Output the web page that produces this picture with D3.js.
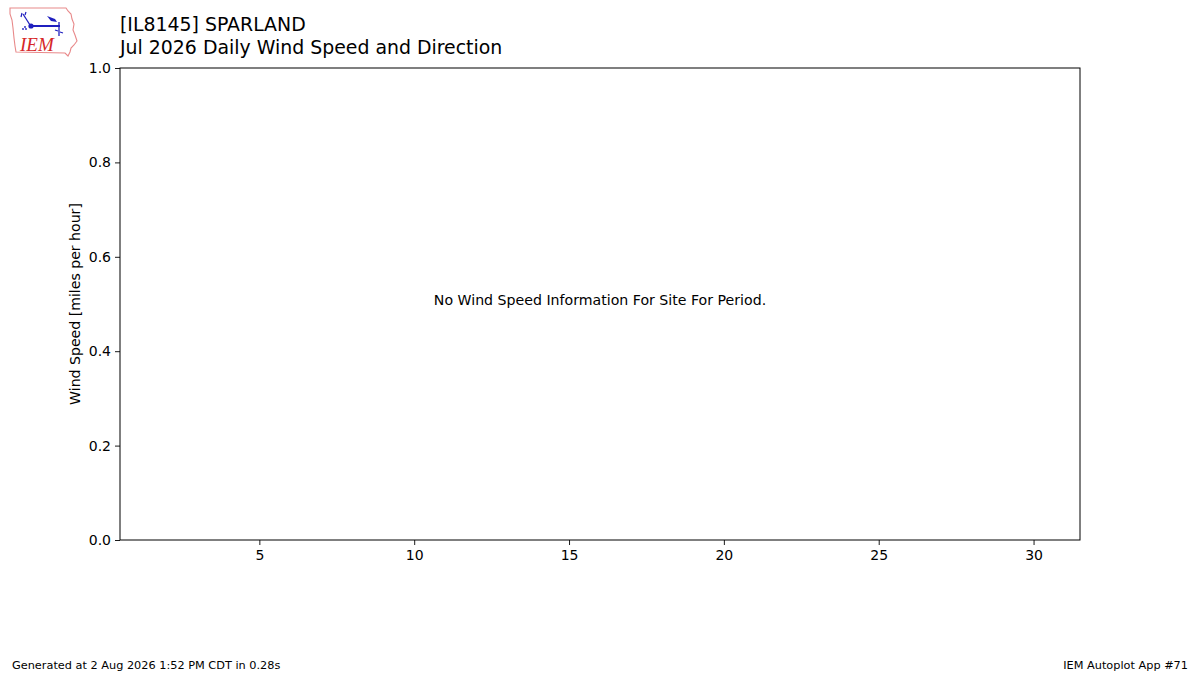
<!DOCTYPE html>
<html>
<head>
<meta charset="utf-8">
<script src="https://cdn.jsdelivr.net/npm/d3@7"></script>
<style>
  body { margin: 0; background: #fff; }
  svg { display: block; font-family: "DejaVu Sans", sans-serif; }
</style>
</head>
<body>
<div id="chart"></div>
<script>
// Data (the site reported nothing for the month)

    var stationId   = "IL8145";
    var stationName = "SPARLAND";
    var monthLabel  = "Jul 2026";

    var windDays  = [];   // day of month
    var windSpeed = [];   // mph
    var windDir   = [];   // degrees

    var xTickValues = [5, 10, 15, 20, 25, 30];
    var yTickValues = [0, 0.2, 0.4, 0.6, 0.8, 1.0];

    var xDomain = [0.5, 31.5];
    var yDomain = [0, 1];

    var noDataMsg  = "No Wind Speed Information For Site For Period.";
    var footerLeft = "Generated at 2 Aug 2026 1:52 PM CDT in 0.28s";
    var footerRight = "IEM Autoplot App #71";


// dimensions

    var svgWidth  = 1200;
    var svgHeight = 675;

    var margin = { top: 68, right: 120, bottom: 135, left: 120 };
    var width  = svgWidth - margin.left - margin.right,
        height = svgHeight - margin.top - margin.bottom;


// Start of SVG

    var svg = d3.select("#chart")
        .append("svg")
            .attr("width", svgWidth)
            .attr("height", svgHeight);

    // logo: Iowa outline with the wind vane mark
    var logo = svg.append("g").attr("class", "logo");
    logo.append("path")
        .attr("d", "M10,8 L66,8 L68,11 L71,14 L72,19 L74,24 L73,30 L75,35 L77,41 L74,45 L71,48 L70,52 L68,56 L65,53 L16,52 L15,46 L14,38 L13,28 L12,20 L10,14 Z")
        .attr("fill", "#fff")
        .attr("stroke", "#e8898a")
        .attr("stroke-width", 1.1);
    logo.append("line")
        .attr("x1", 31).attr("y1", 26).attr("x2", 60).attr("y2", 26)
        .attr("stroke", "#1f1fbf").attr("stroke-width", 2);
    logo.append("line")
        .attr("x1", 23).attr("y1", 14).attr("x2", 30).attr("y2", 25)
        .attr("stroke", "#1f1fbf").attr("stroke-width", 1.3);
    logo.append("path")
        .attr("d", "M22,13 L21,17 M25,15 L26,12")
        .attr("stroke", "#1f1fbf").attr("stroke-width", 1.2).attr("fill", "none");
    logo.append("circle")
        .attr("cx", 31).attr("cy", 26).attr("r", 2.6)
        .attr("fill", "#1f1fbf");
    logo.append("path")
        .attr("d", "M47,16 L55,19 L57,22 L51,21 Z")
        .attr("fill", "#1f1fbf");
    logo.append("line")
        .attr("x1", 59).attr("y1", 22).attr("x2", 59).attr("y2", 36)
        .attr("stroke", "#1f1fbf").attr("stroke-width", 1.3);
    logo.append("path")
        .attr("d", "M55,30 L58,31 M60,32 L63,33")
        .attr("stroke", "#1f1fbf").attr("stroke-width", 1.2).attr("fill", "none");
    logo.selectAll(".dot")
        .data([[25, 27], [26, 29], [23, 29]])
        .enter().append("circle")
            .attr("cx", function(d) { return d[0]; })
            .attr("cy", function(d) { return d[1]; })
            .attr("r", 0.9)
            .attr("fill", "#1f1fbf");
    logo.append("text")
        .attr("x", 20).attr("y", 51)
        .attr("font-family", "'Liberation Serif', serif")
        .attr("font-style", "italic")
        .attr("font-size", "19px")
        .attr("fill", "#d62728")
        .text("IEM");

    // titles
    svg.append("text")
        .attr("x", 120).attr("y", 31)
        .attr("font-size", "18.9px")
        .text("[" + stationId + "] " + stationName);
    svg.append("text")
        .attr("x", 120).attr("y", 54)
        .attr("font-size", "18.9px")
        .text(monthLabel + " Daily Wind Speed and Direction");

    var chart = svg.append("g")
        .attr("transform", `translate(${margin.left}, ${margin.top})`);


    // X axis
    var x = d3.scaleLinear().domain(xDomain).range([0, width]);
    var xAxis = d3.axisBottom(x)
        .tickValues(xTickValues)
        .tickFormat(d3.format("d"))
        .tickSizeOuter(0)
        .tickSize(5)
        .tickPadding(5);
    chart.append("g")
        .attr("class", "xAxis")
        .attr("transform", "translate(0," + height + ")")
        .call(xAxis);

    // Y axis
    var y = d3.scaleLinear().domain(yDomain).range([height, 0]);
    var yAxis = d3.axisLeft(y)
        .tickValues(yTickValues)
        .tickFormat(d3.format(".1f"))
        .tickSizeOuter(0)
        .tickSize(5)
        .tickPadding(4);
    chart.append("g")
        .attr("class", "yAxis")
        .call(yAxis);

    chart.selectAll(".tick text")
        .attr("font-family", "'DejaVu Sans', sans-serif")
        .attr("font-size", "14px")
        .attr("fill", "#000");
    chart.selectAll(".tick line").attr("stroke", "#000").attr("stroke-width", 0.9);
    chart.selectAll(".domain").remove();

    // frame
    chart.append("rect")
        .attr("x", 0).attr("y", 0)
        .attr("width", width).attr("height", height)
        .attr("fill", "none")
        .attr("stroke", "#000")
        .attr("stroke-width", 1);

    // y label
    chart.append("text")
        .attr("transform", "translate(" + (-40) + "," + (height / 2) + ") rotate(-90)")
        .attr("text-anchor", "middle")
        .attr("font-size", "14.1px")
        .text("Wind Speed [miles per hour]");

    // bars, if any
    chart.selectAll(".bar")
        .data(windSpeed)
        .enter().append("rect")
            .attr("class", "bar")
            .attr("x", function(d, i) { return x(windDays[i] - 0.4); })
            .attr("width", x(1.4) - x(0.6))
            .attr("y", function(d) { return y(d); })
            .attr("height", function(d) { return height - y(d); })
            .attr("fill", "#1f77b4");

    if (windSpeed.length === 0) {
        chart.append("text")
            .attr("x", x((xDomain[0] + xDomain[1]) / 2))
            .attr("y", y(0.5) + 0.5)
            .attr("text-anchor", "middle")
            .attr("font-size", "14.15px")
            .text(noDataMsg);
    }

    // footer
    svg.append("text")
        .attr("x", 12).attr("y", 669)
        .attr("font-size", "11.3px")
        .text(footerLeft);
    svg.append("text")
        .attr("x", 1188).attr("y", 669)
        .attr("text-anchor", "end")
        .attr("font-size", "11.3px")
        .text(footerRight);
</script>
</body>
</html>
